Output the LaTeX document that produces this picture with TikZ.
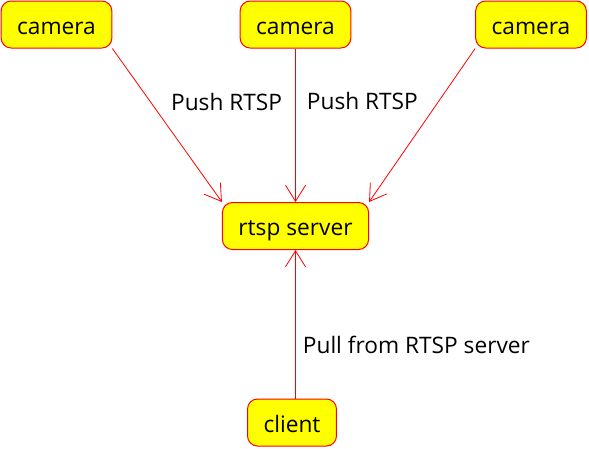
\documentclass[tikz,border=0pt]{standalone}
\usepackage{fontspec}
\setmainfont{Open Sans}
\usepackage{xcolor}
\usetikzlibrary{arrows.meta, positioning}

\definecolor{boxfill}{HTML}{FFFF00}
\definecolor{boxline}{HTML}{FF0000}

\begin{document}
\begin{tikzpicture}[
    x=1pt, y=-1pt,
    box/.style={rectangle, rounded corners=10pt, draw=boxline, line width=1pt, fill=boxfill, minimum height=47pt, inner xsep=16pt, text height=19pt, text depth=0pt, font=\fontsize{22.7}{27}\selectfont},
    lbl/.style={inner sep=0pt, font=\fontsize{22.7}{27}\selectfont},
    arrow/.style={-{Straight Barb[length=16pt, width=20pt]}, draw=boxline, line width=0.8pt}
]
\useasboundingbox (0,0) rectangle (589,448);

\node[box] (cam1) at (56.5,24.5) {camera};
\node[box] (cam2) at (295.5,24.5) {camera};
\node[box] (cam3) at (531,24.5) {camera};
\node[box] (server) at (295.5,226) {rtsp server};
\node[box] (client) at (292,422.5) {client};

\draw[arrow] (cam1.south east) -- node[lbl, pos=0.35, anchor=west, xshift=20pt] {Push RTSP} (server.north west);
\draw[arrow] (cam2) -- node[lbl, pos=0.34, anchor=west, xshift=11pt] {Push RTSP} (server);
\draw[arrow] (cam3.south west) -- (server.north east);
\draw[arrow] (client.north -| server.south) -- node[lbl, pos=0.36, anchor=west, xshift=7pt] {Pull from RTSP server} (server.south);

\end{tikzpicture}
\end{document}
